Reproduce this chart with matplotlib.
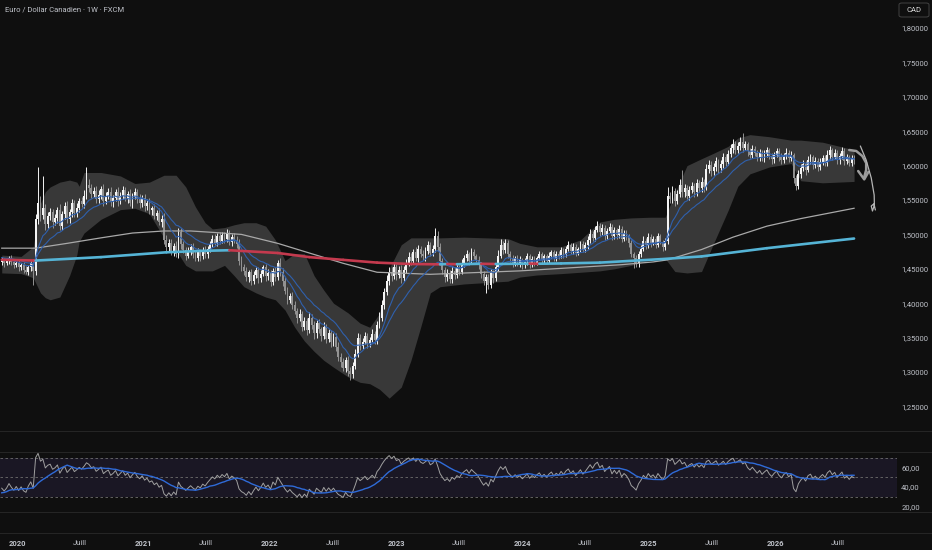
import numpy as np
import pandas as pd
import matplotlib
matplotlib.use("Agg")
import matplotlib.pyplot as plt
import matplotlib.dates as mdates
from matplotlib.collections import LineCollection
from matplotlib.lines import Line2D
from matplotlib.patches import FancyBboxPatch

plt.rcParams["font.family"] = ["Roboto", "DejaVu Sans"]

# ---- data ----
first_week = "2019-11-18"

# weeks before the visible window, only used to warm up EMAs / RSI
warmup_close = [1.488, 1.482, 1.476, 1.479, 1.472, 1.468, 1.474, 1.470, 1.465, 1.473,
                1.478, 1.474, 1.468, 1.462, 1.466, 1.471, 1.476, 1.470, 1.464, 1.459,
                1.463, 1.468, 1.472, 1.466, 1.461, 1.458, 1.463, 1.467, 1.464, 1.460]

close = [
    1.463, 1.458, 1.461, 1.466, 1.460, 1.455, 1.459, 1.452, 1.456, 1.449,
    1.446, 1.453, 1.458, 1.447, 1.522, 1.546, 1.528, 1.538, 1.515, 1.527,
    1.532, 1.518, 1.524, 1.536, 1.512, 1.529, 1.541, 1.522, 1.533, 1.545,
    1.531, 1.539, 1.549, 1.544, 1.556, 1.572, 1.568, 1.559, 1.563, 1.551,
    1.558, 1.566, 1.549, 1.556, 1.561, 1.547, 1.553, 1.562, 1.548, 1.556,
    1.564, 1.552, 1.559, 1.546, 1.555, 1.562, 1.551, 1.545, 1.553, 1.541,
    1.546, 1.535, 1.538, 1.527, 1.531, 1.518, 1.522, 1.492, 1.481, 1.488,
    1.475, 1.483, 1.471, 1.503, 1.486, 1.478, 1.469, 1.475, 1.481, 1.472,
    1.466, 1.474, 1.468, 1.477, 1.471, 1.479, 1.486, 1.493, 1.488, 1.497,
    1.491, 1.499, 1.494, 1.502, 1.489, 1.496, 1.492, 1.486, 1.462, 1.452,
    1.447, 1.438, 1.445, 1.433, 1.441, 1.448, 1.436, 1.443, 1.452, 1.439,
    1.444, 1.431, 1.447, 1.438, 1.458, 1.446, 1.432, 1.418, 1.405, 1.411,
    1.398, 1.389, 1.378, 1.384, 1.366, 1.374, 1.361, 1.379, 1.368, 1.356,
    1.371, 1.362, 1.352, 1.365, 1.348, 1.357, 1.344, 1.351, 1.336, 1.322,
    1.315, 1.306, 1.318, 1.302, 1.297, 1.309, 1.326, 1.349, 1.338, 1.344,
    1.352, 1.341, 1.347, 1.355, 1.346, 1.368, 1.379, 1.398, 1.416, 1.432,
    1.446, 1.439, 1.452, 1.441, 1.448, 1.436, 1.449, 1.458, 1.467, 1.461,
    1.474, 1.466, 1.479, 1.471, 1.468, 1.476, 1.484, 1.473, 1.479, 1.497,
    1.482, 1.461, 1.449, 1.438, 1.444, 1.435, 1.447, 1.441, 1.452, 1.446,
    1.458, 1.465, 1.471, 1.462, 1.474, 1.468, 1.463, 1.455, 1.443, 1.432,
    1.438, 1.427, 1.444, 1.436, 1.452, 1.469, 1.484, 1.477, 1.488, 1.472,
    1.465, 1.458, 1.466, 1.459, 1.463, 1.455, 1.461, 1.468, 1.457, 1.464,
    1.459, 1.466, 1.471, 1.463, 1.468, 1.462, 1.469, 1.474, 1.466, 1.472,
    1.468, 1.477, 1.471, 1.479, 1.484, 1.476, 1.482, 1.473, 1.479, 1.486,
    1.478, 1.484, 1.492, 1.501, 1.495, 1.506, 1.512, 1.503, 1.509, 1.498,
    1.505, 1.511, 1.497, 1.506, 1.499, 1.508, 1.494, 1.502, 1.497, 1.488,
    1.472, 1.466, 1.458, 1.471, 1.479, 1.491, 1.484, 1.496, 1.488, 1.493,
    1.485, 1.497, 1.489, 1.482, 1.491, 1.556, 1.551, 1.563, 1.548, 1.559,
    1.572, 1.561, 1.568, 1.556, 1.565, 1.571, 1.562, 1.574, 1.567, 1.576,
    1.569, 1.595, 1.601, 1.592, 1.598, 1.606, 1.596, 1.603, 1.612, 1.605,
    1.617, 1.625, 1.631, 1.622, 1.628, 1.634, 1.626, 1.631, 1.621, 1.616,
    1.624, 1.618, 1.612, 1.619, 1.611, 1.617, 1.622, 1.614, 1.609, 1.616,
    1.621, 1.613, 1.608, 1.615, 1.619, 1.611, 1.616, 1.582, 1.571, 1.588,
    1.597, 1.603, 1.594, 1.608, 1.612, 1.601, 1.607, 1.598, 1.605, 1.611,
    1.604, 1.616, 1.622, 1.613, 1.619, 1.608, 1.614, 1.621, 1.607, 1.612,
    1.604, 1.611, 1.608,
]

# wick lengths above / below the body, in units of 0.001
wick_up = """
4 3 5 3 4 3 5 4 3 4  5 3 4 6 8 52 10 47 6 5  7 5 6 4 8 5 6 7 4 6  5 7 4 6 8 26 9 5 6 7
6 4 7 5 6 8 5 4 7 5  6 5 4 7 5 6 4 8 5 6  5 7 4 6 5 8 6 9 7 5  6 4 7 7 6 5 4 6 5 7
5 6 4 5 6 4 5 6 7 5  6 4 5 6 5 4 6 5 7 6  5 6 4 5 6 4 5 6 4 5  6 5 4 6 5 7 5 6 5 4
6 5 4 7 5 6 4 8 5 6  5 6 4 7 5 6 4 5 6 7  5 6 4 5 6 5 7 8 6 5  6 5 4 7 5 6 8 7 6 9
7 6 8 5 6 7 5 6 8 6  5 7 6 4 6 5 7 5 6 13  8 6 5 4 6 5 7 5 6 4  6 5 7 4 6 5 4 6 5 4
5 4 6 5 7 8 9 6 5 4  4 5 3 4 5 3 4 5 3 4  4 3 5 4 3 4 5 4 3 4  4 5 3 4 6 3 5 4 3 5
4 5 6 7 4 6 8 5 6 4  5 6 4 5 4 6 4 5 4 3  4 3 4 5 6 7 4 6 5 4  4 5 4 3 4 13 6 7 5 6
8 22 5 4 6 5 4 6 5 7  5 8 7 5 6 7 4 5 7 5  6 7 8 5 6 7 13 5 4 5  6 5 4 5 4 6 5 4 5 4
5 4 5 4 6 4 5 3 4 5  6 5 4 6 5 4 5 4 6 5  4 6 7 4 5 4 5 6 4 5  4 5 4
"""
wick_dn = """
4 5 3 4 5 4 3 5 4 5  4 5 6 20 6 7 8 6 9 5  6 8 5 7 6 5 7 6 5 8  6 5 7 4 6 5 7 6 5 6
5 6 7 5 4 6 7 5 6 4  5 4 6 5 7 4 5 6 5 7  6 5 7 4 6 5 7 6 5 6  5 6 4 5 7 5 6 4 5 6
4 5 6 4 5 6 4 5 4 5  5 4 6 5 4 6 5 6 7 5  6 5 7 6 5 4 6 5 4 6  5 6 4 5 4 6 7 5 6 5
6 5 7 4 6 5 7 4 6 8  6 5 7 4 6 5 7 6 5 6  7 5 6 8 9 6 5 4 6 5  4 6 5 4 6 5 4 5 6 4
5 6 4 7 5 6 4 5 4 6  4 5 6 4 5 6 4 5 4 5  6 5 6 7 5 6 5 6 4 5  4 5 4 6 5 4 6 5 7 6
17 7 5 6 4 5 4 5 4 6  5 6 4 5 6 5 4 5 6 4  5 4 3 5 4 5 4 3 5 4  4 3 5 4 3 5 4 5 3 4
4 3 5 4 5 4 3 5 4 6  4 3 5 4 6 4 5 4 5 6  5 15 6 5 4 3 5 4 6 4  5 4 3 6 4 5 6 5 7 4
5 6 7 5 6 5 7 6 5 6  7 5 6 7 5 6 7 5 6 5  4 5 6 5 4 5 6 4 7 5  5 4 6 5 4 6 5 4 6 5
4 6 5 4 5 6 4 8 6 5  6 5 7 4 5 6 4 6 5 4  5 4 6 5 4 6 5 4 6 5  5 4 6
"""

# grey volatility band (week index into the visible candles)
band_week = [0, 8, 13, 16, 18, 20, 24, 28, 31, 32, 34, 41, 49, 55, 61, 67, 72, 76, 80, 84,
             87, 92, 96, 100, 105, 109, 113, 117, 121, 125, 129, 133, 137, 143, 148, 152,
             156, 160, 165, 169, 173, 177, 181, 191, 200, 209, 214, 221, 231, 239, 247,
             253, 260, 268, 274, 278, 283, 289, 294, 300, 304, 309, 317, 326, 330, 339, 352]
band_upper = [1.470, 1.468, 1.482, 1.545, 1.562, 1.569, 1.576, 1.579, 1.576, 1.570, 1.590,
              1.590, 1.585, 1.574, 1.576, 1.586, 1.586, 1.569, 1.540, 1.517, 1.508, 1.510,
              1.514, 1.517, 1.517, 1.512, 1.492, 1.462, 1.472, 1.472, 1.440, 1.419, 1.400,
              1.386, 1.371, 1.365, 1.385, 1.450, 1.485, 1.495, 1.495, 1.495, 1.495, 1.496,
              1.495, 1.494, 1.487, 1.482, 1.482, 1.492, 1.518, 1.522, 1.524, 1.525, 1.525,
              1.560, 1.600, 1.610, 1.618, 1.628, 1.640, 1.645, 1.642, 1.637, 1.637, 1.634,
              1.623]
band_lower = [1.444, 1.443, 1.437, 1.415, 1.408, 1.405, 1.409, 1.440, 1.470, 1.490, 1.502,
              1.522, 1.536, 1.538, 1.530, 1.495, 1.477, 1.455, 1.447, 1.447, 1.447, 1.455,
              1.440, 1.424, 1.415, 1.409, 1.405, 1.390, 1.365, 1.345, 1.330, 1.317, 1.307,
              1.293, 1.285, 1.283, 1.275, 1.262, 1.278, 1.317, 1.365, 1.415, 1.424, 1.428,
              1.430, 1.432, 1.438, 1.441, 1.443, 1.445, 1.447, 1.450, 1.455, 1.463, 1.465,
              1.446, 1.444, 1.446, 1.487, 1.535, 1.570, 1.588, 1.598, 1.603, 1.578, 1.575,
              1.577]

# slow grey moving average
ma_grey_week = [0, 14, 27, 41, 54, 67, 78, 87, 99, 114, 127, 141, 155, 163, 177, 214, 242,
                256, 269, 275, 289, 302, 316, 330, 352]
ma_grey = [1.480, 1.480, 1.487, 1.495, 1.502, 1.505, 1.505, 1.503, 1.500, 1.487, 1.473,
           1.458, 1.445, 1.444, 1.442, 1.447, 1.453, 1.456, 1.460, 1.463, 1.478, 1.496,
           1.512, 1.523, 1.538]

# 200-week moving average (thick, coloured by slope)
ma200_week = [0, 14, 41, 68, 82, 94, 114, 127, 141, 155, 169, 181, 184, 188, 198, 204, 218,
              222, 231, 247, 272, 289, 316, 352]
ma200 = [1.4632, 1.4620, 1.4670, 1.4740, 1.4760, 1.4770, 1.4730, 1.4670, 1.4630, 1.4590,
         1.4570, 1.4565, 1.4570, 1.4567, 1.4573, 1.4570, 1.4576, 1.4574, 1.4578, 1.4590,
         1.4640, 1.4680, 1.4800, 1.4940]

# hand drawn arrows: (weeks after the last candle, price)
stroke_a = [(-2.0, 1.6227), (0.9, 1.6212), (3.4, 1.6140), (5.0, 1.6038), (5.0, 1.5936),
            (4.2, 1.5834)]
stroke_a_head = [(1.7, 1.5921), (4.2, 1.5800), (5.9, 1.5907)]
stroke_b = [(2.6, 1.6285), (5.0, 1.6081), (7.1, 1.5820), (8.3, 1.5573), (8.4, 1.5427),
            (7.6, 1.5340), (7.1, 1.5413), (8.2, 1.5445), (8.8, 1.5355)]

price_ticks = [1.25, 1.30, 1.35, 1.40, 1.45, 1.50, 1.55, 1.60, 1.65, 1.70, 1.75, 1.80]
rsi_ticks = [20, 40, 60]
years = [2020, 2021, 2022, 2023, 2024, 2025, 2026]

# ---- derived series ----
dates = pd.date_range(first_week, periods=len(close), freq="7D")
warm_dates = pd.date_range(end=dates[0] - pd.Timedelta(days=7), periods=len(warmup_close), freq="7D")
full = pd.Series(warmup_close + close, index=warm_dates.append(dates))
nw = len(warmup_close)

c = np.array(close)
o = np.r_[warmup_close[-1], c[:-1]]
up_w = np.array(wick_up.split(), dtype=float) * 0.001
dn_w = np.array(wick_dn.split(), dtype=float) * 0.001
hi = np.maximum(o, c) + up_w
lo = np.minimum(o, c) - dn_w
rising = c >= o

ema_fast = full.ewm(span=10, adjust=False).mean().iloc[nw:]
ema_slow = full.ewm(span=20, adjust=False).mean().iloc[nw:]

delta = full.diff()
gain = delta.clip(lower=0).ewm(alpha=1 / 14, adjust=False).mean()
loss = (-delta.clip(upper=0)).ewm(alpha=1 / 14, adjust=False).mean()
rsi = 100 - 100 / (1 + gain / loss)
rsi_ma = rsi.rolling(14).mean()
rsi = rsi.iloc[nw:]
rsi_ma = rsi_ma.iloc[nw:]

xs = mdates.date2num(dates.to_pydatetime())

# ---- figure ----
bg = "#0f0f0f"
txt = "#bfc2c9"
fig = plt.figure(figsize=(9.32, 5.50), dpi=100, facecolor=bg)
ax = fig.add_axes([0, 0.2169, 0.9624, 0.7831], facecolor=bg)
ax2 = fig.add_axes([0, 0.0304, 0.9624, 0.1865], facecolor=bg, sharex=ax)

# band
ax.fill_between(xs[band_week], band_lower, band_upper, color="#383838", lw=0, zorder=1)

# candles
for m, col in [(rising, "#f4f4f4"), (~rising, "#929292")]:
    ax.vlines(xs[m], lo[m], hi[m], color=col, lw=0.7, zorder=3)
    h = np.maximum(np.abs(c - o), 0.0007)
    ax.bar(xs[m], h[m], bottom=np.minimum(o, c)[m], width=5.4, color=col, lw=0, zorder=3)

# moving averages
ax.plot(xs[ma_grey_week], ma_grey, color="#a9a9a9", lw=0.9, zorder=4)
ax.plot(xs, ema_fast.values, color="#2f60ad", lw=0.8, zorder=4)
ax.plot(xs, ema_slow.values, color="#2f60ad", lw=0.8, zorder=4)

pts = np.column_stack([xs[ma200_week], ma200])
segs = np.stack([pts[:-1], pts[1:]], axis=1)
cols = ["#55b4d6" if d >= 0 else "#c43a4e" for d in np.diff(ma200)]
ax.add_collection(LineCollection(segs, colors=cols, lw=1.9, zorder=5, capstyle="round"))

# hand drawn arrows
def draw_stroke(pts_list, lw, col):
    px = [xs[-1] + w * 7 for w, _ in pts_list]
    py = [p for _, p in pts_list]
    ax.plot(px, py, color=col, lw=lw, solid_capstyle="round", solid_joinstyle="round", zorder=6)

draw_stroke(stroke_a, 1.8, "#9c9c9c")
draw_stroke(stroke_a_head, 1.8, "#9c9c9c")
draw_stroke(stroke_b, 0.9, "#b5b5b5")

ax.set_ylim(1.2147, 1.8407)
ax.set_xlim(pd.Timestamp("2019-11-13"), pd.Timestamp("2026-12-19"))
ax.set_yticks(price_ticks)
ax.set_yticklabels([f"{v:.5f}".replace(".", ",") for v in price_ticks])
ax.yaxis.tick_right()
ax.tick_params(axis="y", length=0, pad=3, labelsize=5.5, labelcolor=txt)
ax.tick_params(axis="x", bottom=False, labelbottom=False)
for s in ax.spines.values():
    s.set_visible(False)

# RSI pane
ax2.axhspan(30, 70, color="#1a1724", lw=0, zorder=0)
for lvl in (70, 50, 30):
    ax2.axhline(lvl, color="#6e6e6e", lw=0.6, dashes=(3, 3), zorder=1)
ax2.plot(xs, rsi.values, color="#a0a0a0", lw=0.7, zorder=3)
ax2.plot(xs, rsi_ma.values, color="#2f6bd8", lw=1.0, zorder=4)
ax2.set_ylim(-8.0, 98.3)
ax2.set_yticks(rsi_ticks)
ax2.set_yticklabels([f"{v:.2f}".replace(".", ",") for v in rsi_ticks])
ax2.yaxis.tick_right()
ax2.tick_params(axis="y", length=0, pad=3, labelsize=5.5, labelcolor=txt)
for s in ax2.spines.values():
    s.set_visible(False)

xt, xl = [], []
for y in years:
    xt += [pd.Timestamp(f"{y}-01-01"), pd.Timestamp(f"{y}-07-01")]
    xl += [str(y), "Juill"]
ax2.set_xticks(xt)
ax2.set_xticklabels(xl)
ax2.tick_params(axis="x", length=0, pad=5, labelsize=5.5, labelcolor=txt)
for lab, t in zip(ax2.get_xticklabels(), xl):
    if t != "Juill":
        lab.set_fontweight("bold")

# pane separators across the full width
for ypx in (430.7, 451.7, 512.3, 533.3):
    yf = 1 - ypx / 550
    fig.add_artist(Line2D([0, 1], [yf, yf], color="#262626", lw=0.7, transform=fig.transFigure))

fig.text(5 / 932, 1 - 10 / 550, "Euro / Dollar Canadien \u00b7 1W \u00b7 FXCM", color=txt,
         fontsize=5.5, va="center", ha="left")
fig.add_artist(FancyBboxPatch((899 / 932, 1 - 17 / 550), 30 / 932, 14 / 550,
                              boxstyle="round,pad=0,rounding_size=0.003",
                              transform=fig.transFigure, fc=bg, ec="#4a4a4a", lw=0.6))
fig.text(914 / 932, 1 - 10 / 550, "CAD", color="#d8d8d8", fontsize=5.5, ha="center", va="center")

fig.savefig("out.png", dpi=100, facecolor=bg)
